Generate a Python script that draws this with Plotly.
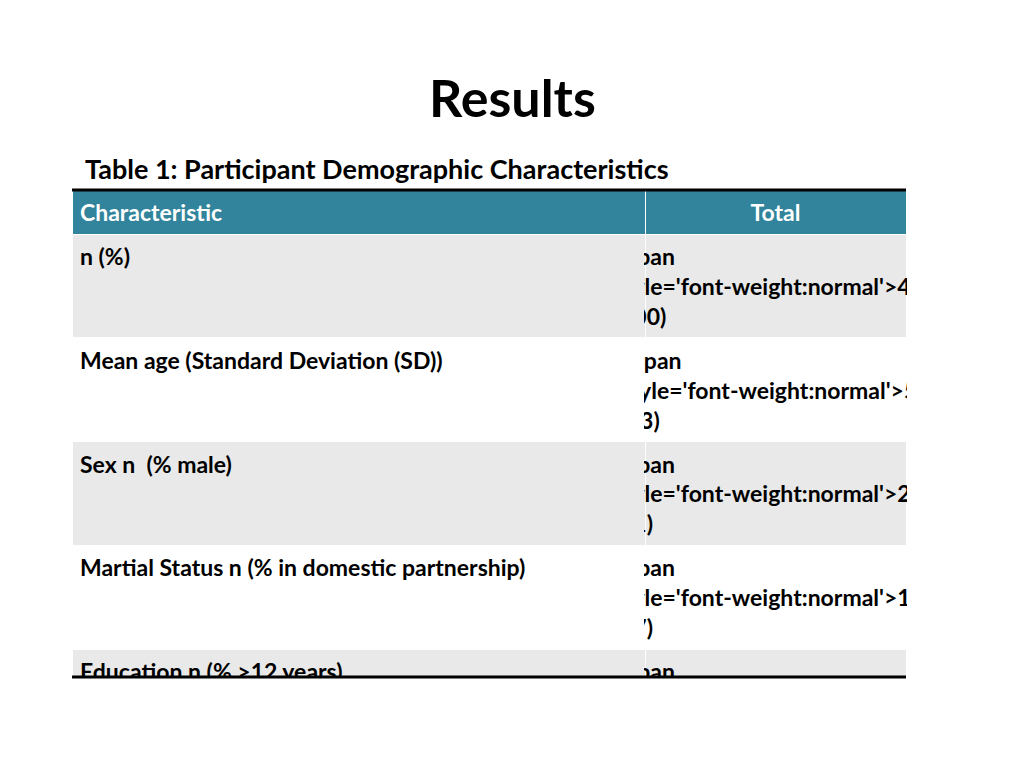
import plotly.graph_objects as go

title = "Results"
subtitle = "Table 1: Participant Demographic Characteristics"
headers = ["Characteristic", "Total"]
characteristics = [
    "<b>n (%)</b>",
    "<b>Mean age (Standard Deviation (SD))</b>",
    "<b>Sex n  (% male)</b>",
    "<b>Martial Status n (% in domestic partnership)</b>",
    "<b>Education n (% >12 years)</b>",
    "<b>Ethnic Background n  (%)</b><br>White<br>Black<br>Asian<br>Other",
    "<b>Median years on dialysis (IQR)</b>",
    "<b>Diabetes n (% yes)</b>",
]
totals = [
    "411 (100)",
    "57 (13)",
    "249 (61)",
    "189 (47)",
    "281 (73)",
    " <br>166 (40)<br>123 (30)<br>78 (19)<br>44 (11)",
    "2.1 (1.0-5.1)",
    "195 (49)",
]
row_fills = ["#E9E9E9", "white", "#E9E9E9", "white", "#E9E9E9", "white", "#E9E9E9", "white"]

font = "Lato, Open Sans, sans-serif"
OFF = 8  # page body margin
W, H = 1024, 768


def px(x):
    return (x - OFF) / W


def py_(y):
    return 1 - (y - OFF) / H


x0, x1 = px(72), px(906)
y_top, y_bot = py_(190), py_(677)

# match vertical layout of the bold first column in the totals column
tot_cells = ["<b><span style='font-weight:normal'>%s</span></b>" % t for t in totals]

fig = go.Figure(go.Table(
    domain=dict(x=[x0, x1], y=[y_bot, y_top]),
    columnwidth=[573, 261],
    header=dict(
        values=["<b>%s</b>" % h for h in headers],
        fill_color="#31849B",
        line=dict(color="white", width=1),
        font=dict(color="white", size=23, family=font),
        align=["left", "center"],
        height=41,
    ),
    cells=dict(
        values=[characteristics, tot_cells],
        fill_color=[row_fills, row_fills],
        line=dict(color="white", width=1),
        font=dict(color="black", size=23, family=font),
        align=["left", "center"],
        height=40,
    ),
))

fig.add_shape(type="line", xref="paper", yref="paper", x0=x0, x1=x1, y0=y_top, y1=y_top,
              line=dict(color="black", width=3))
fig.add_shape(type="line", xref="paper", yref="paper", x0=x0, x1=x1, y0=y_bot, y1=y_bot,
              line=dict(color="black", width=3))

fig.add_annotation(text="<b>%s</b>" % title, x=px(512), y=py_(97), xref="paper", yref="paper",
                   xanchor="center", yanchor="middle", showarrow=False,
                   font=dict(size=52, family=font, color="black"))
fig.add_annotation(text="<b>%s</b>" % subtitle, x=px(83), y=py_(168), xref="paper", yref="paper",
                   xanchor="left", yanchor="middle", showarrow=False,
                   font=dict(size=27, family=font, color="black"))

fig.update_layout(width=W, height=H, margin=dict(l=0, r=0, t=0, b=0),
                  paper_bgcolor="white", plot_bgcolor="white")
fig.write_html("out.html")
